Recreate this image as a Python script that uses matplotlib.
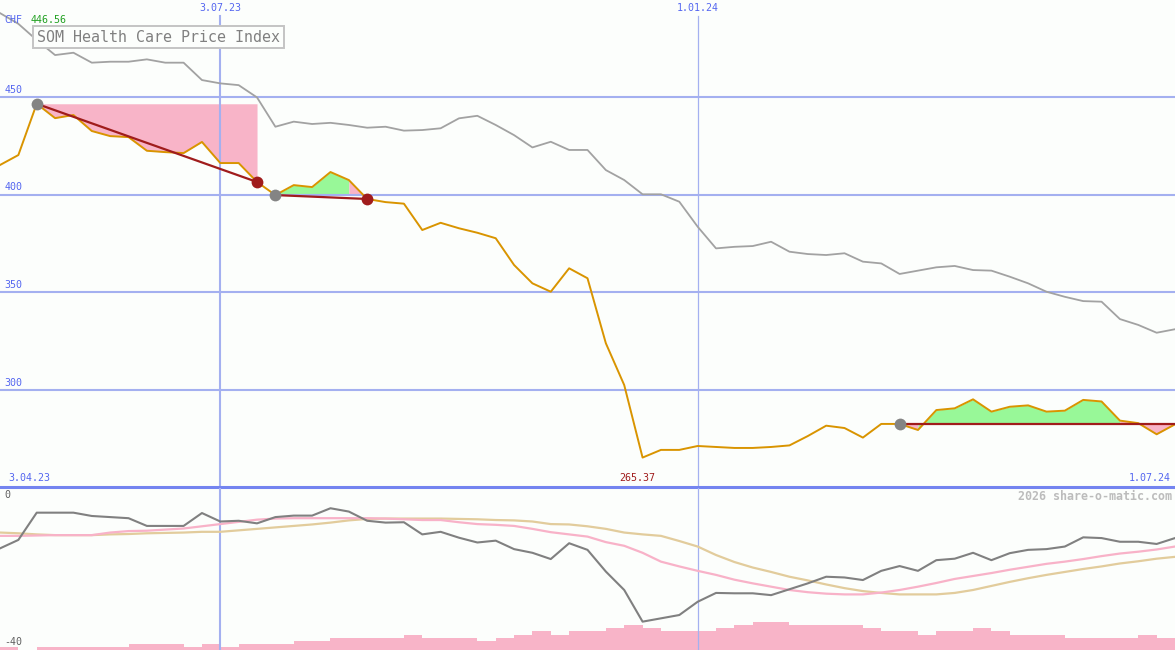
import matplotlib
matplotlib.use("Agg")
import matplotlib.pyplot as plt
import numpy as np

# -----------------------------
# Weekly data, index 0 .. 64
# -----------------------------
price = [415.2, 420.3, 446.56, 439.2, 440.8, 432.6, 430.0, 429.5, 422.5, 421.8,
         421.3, 427.0, 416.2, 416.2, 406.5, 399.8, 404.9, 403.9, 411.6, 407.5,
         397.8, 396.2, 395.4, 381.9, 385.6, 382.8, 380.5, 377.7, 364.0, 354.6,
         350.3, 362.3, 357.2, 323.9, 302.5, 265.37, 269.3, 269.3, 271.3, 270.8,
         270.3, 270.3, 270.8, 271.6, 276.4, 281.7, 280.5, 275.6, 282.6, 282.6,
         279.5, 289.7, 290.6, 295.2, 288.9, 291.4, 292.1, 288.9, 289.4, 294.9,
         294.1, 284.3, 283.0, 277.3, 282.4]

benchmark = [493.0, 487.5, 479.2, 471.5, 472.7, 467.6, 468.1, 468.1, 469.3, 467.6,
             467.6, 458.7, 457.0, 456.1, 449.8, 434.8, 437.4, 436.2, 436.8, 435.7,
             434.3, 434.8, 432.8, 433.1, 434.0, 439.1, 440.4, 435.7, 430.5, 424.2,
             427.1, 422.9, 422.9, 412.6, 407.5, 400.2, 400.2, 396.4, 383.6, 372.5,
             373.3, 373.7, 375.9, 370.8, 369.6, 369.1, 370.0, 365.7, 364.8, 359.4,
             361.1, 362.8, 363.5, 361.4, 361.1, 358.0, 354.6, 350.3, 347.7, 345.5,
             345.2, 336.3, 333.3, 329.3, 331.1]

momentum = [-12.9, -10.6, -3.2, -3.2, -3.2, -4.1, -4.4, -4.7, -6.8, -6.8,
            -6.8, -3.3, -5.6, -5.4, -6.1, -4.4, -4.0, -4.0, -2.0, -2.9,
            -5.4, -5.9, -5.8, -9.1, -8.4, -10.0, -11.3, -10.8, -13.1, -14.1,
            -15.8, -11.5, -13.3, -19.2, -24.2, -32.8, -31.9, -31.0, -27.4, -25.0,
            -25.1, -25.1, -25.6, -24.0, -22.4, -20.6, -20.8, -21.5, -19.0, -17.7,
            -19.0, -16.1, -15.7, -14.1, -16.1, -14.2, -13.3, -13.1, -12.4, -9.9,
            -10.1, -11.1, -11.1, -11.7, -10.1]

mom_fast = [-9.5, -9.5, -9.4, -9.3, -9.3, -9.3, -8.6, -8.2, -8.1, -7.8,
            -7.5, -6.9, -6.3, -5.7, -5.1, -4.8, -4.7, -4.7, -4.7, -4.7,
            -4.7, -4.8, -5.0, -5.2, -5.2, -5.8, -6.3, -6.5, -6.8, -7.6,
            -8.5, -9.1, -9.7, -11.2, -12.2, -14.1, -16.5, -17.8, -19.0, -20.1,
            -21.4, -22.4, -23.3, -24.2, -24.8, -25.2, -25.4, -25.4, -24.9, -24.2,
            -23.3, -22.3, -21.2, -20.4, -19.6, -18.7, -17.9, -17.1, -16.5, -15.8,
            -15.0, -14.3, -13.8, -13.2, -12.4]

mom_slow = [-8.6, -8.8, -9.1, -9.3, -9.3, -9.3, -9.1, -9.0, -8.8, -8.7,
            -8.6, -8.4, -8.4, -8.0, -7.6, -7.2, -6.8, -6.4, -5.9, -5.3,
            -4.9, -4.8, -4.8, -4.8, -4.8, -4.9, -5.0, -5.2, -5.3, -5.6,
            -6.3, -6.4, -6.9, -7.6, -8.6, -9.1, -9.5, -10.9, -12.4, -14.7,
            -16.6, -18.1, -19.3, -20.6, -21.6, -22.7, -23.7, -24.5, -25.0, -25.4,
            -25.4, -25.4, -25.0, -24.2, -23.1, -22.0, -21.0, -20.1, -19.3, -18.5,
            -17.8, -17.0, -16.4, -15.7, -15.2]

volume = [3.3, 0, 3.3, 3.3, 3.3, 3.3, 3.3, 6, 6, 6,
          3.3, 6, 3.3, 6, 6, 6, 9.3, 9.3, 12.3, 12.3,
          12.3, 12.3, 15, 12.3, 12.3, 12.3, 9, 12.3, 15, 19,
          15, 19.3, 19.3, 22, 25, 22, 19.3, 19.3, 19.3, 22,
          25, 28.3, 28.3, 25, 25, 25, 25, 22, 19.3, 19.3,
          15, 19.3, 19.3, 22, 19.3, 15, 15, 15, 12.3, 12.3,
          12.3, 12.3, 15, 12.3, 12.3]

date_ticks = [12, 38]
date_labels = ["3.07.23", "1.01.24"]
price_levels = [300, 350, 400, 450]
start_label = "3.04.23"
end_label = "1.07.24"
title = "SOM Health Care Price Index"

# phases: drawdown (peak -> low), recovery legs
drawdown = (2, 14)
recovery = (15, 19, 20)    # start, turn, end
rally = (49, 50, 61, 64)   # start, green from, pink from, end

# -----------------------------
# Styles
# -----------------------------
BG = "#FCFEFC"
GRID = "#A4B0F0"
AXIS = "#7484F0"
BLUE_TXT = "#5466F0"
ORANGE = "#D99400"
PINK = "#F8B4C8"
GREEN = "#98F898"
RED = "#A01C1C"
MARK_GRAY = "#848484"
MONO = "DejaVu Sans Mono"

x = np.arange(len(price))
price = np.array(price)

fig = plt.figure(figsize=(11.75, 6.5), dpi=100, facecolor=BG)
ax = fig.add_axes([0, 163 / 650, 1, 487 / 650], facecolor=BG)
ax2 = fig.add_axes([0, 0, 1, 162 / 650], facecolor=BG)
axv = ax2.twinx()

for a in (ax, ax2, axv):
    a.set_xlim(0, len(price) - 1)
    a.set_xticks([])
    a.set_yticks([])
    for s in a.spines.values():
        s.set_visible(False)

ax.set_ylim(250.3, 499.7)
ax.spines["bottom"].set_visible(True)
ax.spines["bottom"].set_color(AXIS)
ax.spines["bottom"].set_linewidth(2.2)

# -----------------------------
# Main panel
# -----------------------------
for lv in price_levels:
    ax.axhline(lv, color=GRID, lw=1.5, zorder=1.5)
    ax.text(0.004, lv + 1.2, str(lv), transform=ax.get_yaxis_transform(),
            color=BLUE_TXT, fontsize=7.2, family=MONO, va="bottom", ha="left")

for t, lab, w in zip(date_ticks, date_labels, [1.5, 0.9]):
    ax.axvline(t, ymax=1 - 16 / 487, color=GRID, lw=w, zorder=1.5)
    ax2.axvline(t, color=GRID, lw=w, zorder=0.5)
    ax.text(t, 1 - 8 / 487, lab, transform=ax.get_xaxis_transform(),
            color=BLUE_TXT, fontsize=7.2, family=MONO, ha="center", va="center")

# drawdown fill
p0, p1 = drawdown
ax.fill_between(x[p0:p1 + 1], price[p0], price[p0:p1 + 1], color=PINK, lw=0, zorder=1)
ax.plot([p0, p1], [price[p0], price[p1]], color=RED, lw=1.6, zorder=3)

# recovery leg
r0, r1, r2 = recovery
base = price[r0]
ax.fill_between(x[r0:r1 + 1], base, price[r0:r1 + 1], color=GREEN, lw=0, zorder=1)
ax.fill_between(x[r1:r2 + 1], base, price[r1:r2 + 1], color=PINK, lw=0, zorder=1)
ax.plot([r0, r2], [price[r0], price[r2]], color=RED, lw=1.6, zorder=3)

# current rally
q0, q1, q2, q3 = rally
base = price[q0]
ax.fill_between(x[q0:q1 + 1], base, price[q0:q1 + 1], color=PINK, lw=0, zorder=1)
ax.fill_between(x[q1:q2 + 1], base, price[q1:q2 + 1], color=GREEN, lw=0, zorder=1)
ax.fill_between(x[q2:q3 + 1], base, price[q2:q3 + 1], color=PINK, lw=0, zorder=1)
ax.plot([q0, q3], [base, base], color=RED, lw=1.6, zorder=3)

ax.plot(x, benchmark, color="#A2A2A2", lw=1.3, zorder=2)
ax.plot(x, price, color=ORANGE, lw=1.4, zorder=2.5)

for i in (p0, r0, q0):
    ax.plot(i, price[i], "o", ms=8.5, color=MARK_GRAY, mec="none", zorder=4)
for i in (p1, r2):
    ax.plot(i, price[i], "o", ms=8.5, color=RED, mec="none", zorder=4)

# labels
ax.text(0.004, 1 - 20 / 487, "CHF", transform=ax.transAxes, color=BLUE_TXT,
        fontsize=7.2, family=MONO, va="center", ha="left")
ax.text(31 / 1175, 1 - 20 / 487, f"{price.max():.2f}", transform=ax.transAxes,
        color="#20A020", fontsize=7.2, family=MONO, va="center", ha="left")
ax.text(37 / 1175, 1 - 37 / 487, title, transform=ax.transAxes, color="#808080",
        fontsize=10.8, family=MONO, va="center", ha="left", zorder=5,
        bbox=dict(boxstyle="square,pad=0.25", fc=BG, ec="#C4C4C4", lw=1.4))

ax.text(8 / 1175, 9 / 487, start_label, transform=ax.transAxes, color=BLUE_TXT,
        fontsize=7.2, family=MONO, va="center", ha="left")
ax.text(int(np.argmin(price)) - 0.3, 9 / 487, f"{price.min():.2f}",
        transform=ax.get_xaxis_transform(), color=RED, fontsize=7.2, family=MONO,
        va="center", ha="center")
ax.text(1 - 4 / 1175, 9 / 487, end_label, transform=ax.transAxes, color=BLUE_TXT,
        fontsize=7.2, family=MONO, va="center", ha="right")

# -----------------------------
# Lower panel
# -----------------------------
ax2.set_ylim(-40.5, 3.5)
axv.set_ylim(0, 162)
axv.bar(x, volume, width=1.0, align="edge", color=PINK, lw=0, zorder=1)

ax2.set_zorder(axv.get_zorder() + 1)
ax2.patch.set_visible(False)
ax2.plot(x, mom_slow, color="#E2CC9C", lw=1.6, zorder=2)
ax2.plot(x, mom_fast, color="#F8B2C8", lw=1.6, zorder=2)
ax2.plot(x, momentum, color="#808080", lw=1.5, zorder=3)

ax2.text(0.004, 0.2, "0", transform=ax2.get_yaxis_transform(), color="#606060",
         fontsize=7.2, family=MONO, va="bottom", ha="left")
ax2.text(0.004, -39.8, "-40", transform=ax2.get_yaxis_transform(), color="#606060",
         fontsize=7.2, family=MONO, va="bottom", ha="left")
ax2.text(1 - 3 / 1175, 1 - 8 / 162, "2026 share-o-matic.com", transform=ax2.transAxes,
         color="#BCBCBC", fontsize=8.4, family=MONO, weight="bold",
         va="center", ha="right")

fig.savefig("out.png", dpi=100, facecolor=BG)
